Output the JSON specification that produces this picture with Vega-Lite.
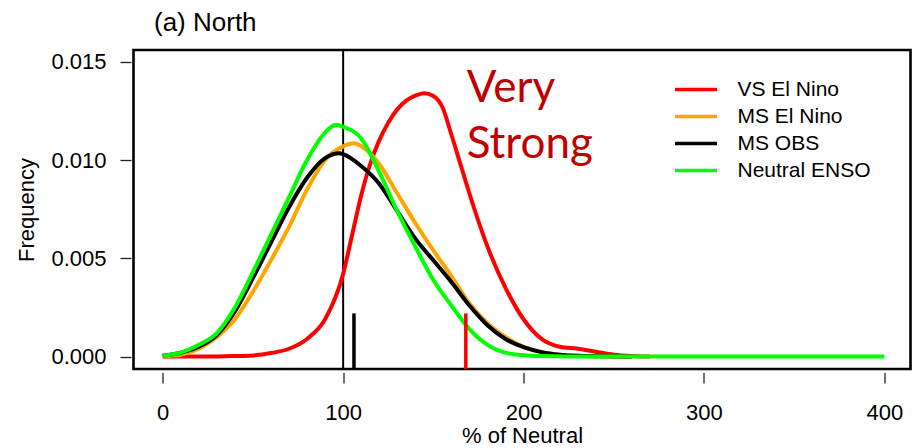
{
  "$schema": "https://vega.github.io/schema/vega-lite/v6.json",
  "autosize": {"type": "none"},
  "padding": {"left": 133.5, "top": 50, "right": 1.5, "bottom": 79},
  "width": 777,
  "height": 319,
  "background": "white",
  "config": {
    "font": "Liberation Sans",
    "view": {"stroke": "black", "strokeWidth": 2.6},
    "axis": {"grid": false, "domain": false, "labelFont": "Liberation Sans", "titleFont": "Liberation Sans", "labelColor": "black", "titleColor": "black", "tickColor": "#222", "tickWidth": 1.3, "labelFontSize": 22, "titleFontSize": 22, "titleFontWeight": "normal"}
  },
  "title": {"text": "(a) North", "anchor": "start", "frame": "group", "dx": 20.5, "offset": -8, "baseline": "alphabetic", "fontSize": 26, "fontWeight": "normal", "font": "Liberation Sans", "color": "black"},
  "datasets": {
    "curves": [
      {"s": "VS El Nino", "x": 0, "y": 0},
      {"s": "VS El Nino", "x": 10, "y": 0},
      {"s": "VS El Nino", "x": 20, "y": 0},
      {"s": "VS El Nino", "x": 30, "y": 0.00001},
      {"s": "VS El Nino", "x": 40, "y": 0.00003},
      {"s": "VS El Nino", "x": 50, "y": 0.00006},
      {"s": "VS El Nino", "x": 60, "y": 0.00018},
      {"s": "VS El Nino", "x": 70, "y": 0.0004},
      {"s": "VS El Nino", "x": 80, "y": 0.0009},
      {"s": "VS El Nino", "x": 90, "y": 0.0019},
      {"s": "VS El Nino", "x": 100, "y": 0.0042},
      {"s": "VS El Nino", "x": 105, "y": 0.0062},
      {"s": "VS El Nino", "x": 110, "y": 0.0082},
      {"s": "VS El Nino", "x": 115, "y": 0.0098},
      {"s": "VS El Nino", "x": 120, "y": 0.0110},
      {"s": "VS El Nino", "x": 125, "y": 0.0119},
      {"s": "VS El Nino", "x": 130, "y": 0.01258},
      {"s": "VS El Nino", "x": 135, "y": 0.01302},
      {"s": "VS El Nino", "x": 140, "y": 0.01328},
      {"s": "VS El Nino", "x": 145, "y": 0.0134},
      {"s": "VS El Nino", "x": 150, "y": 0.01326},
      {"s": "VS El Nino", "x": 155, "y": 0.0127},
      {"s": "VS El Nino", "x": 160, "y": 0.0113},
      {"s": "VS El Nino", "x": 165, "y": 0.0098},
      {"s": "VS El Nino", "x": 170, "y": 0.0083},
      {"s": "VS El Nino", "x": 180, "y": 0.0056},
      {"s": "VS El Nino", "x": 190, "y": 0.0035},
      {"s": "VS El Nino", "x": 200, "y": 0.0019},
      {"s": "VS El Nino", "x": 210, "y": 0.0009},
      {"s": "VS El Nino", "x": 220, "y": 0.0005},
      {"s": "VS El Nino", "x": 230, "y": 0.0004},
      {"s": "VS El Nino", "x": 240, "y": 0.00025},
      {"s": "VS El Nino", "x": 250, "y": 0.0001},
      {"s": "VS El Nino", "x": 260, "y": 0.00003},
      {"s": "VS El Nino", "x": 270, "y": 0},
      {"s": "MS El Nino", "x": 0, "y": 0.00003},
      {"s": "MS El Nino", "x": 10, "y": 0.0001},
      {"s": "MS El Nino", "x": 20, "y": 0.0004},
      {"s": "MS El Nino", "x": 30, "y": 0.001},
      {"s": "MS El Nino", "x": 40, "y": 0.0019},
      {"s": "MS El Nino", "x": 50, "y": 0.0033},
      {"s": "MS El Nino", "x": 60, "y": 0.0049},
      {"s": "MS El Nino", "x": 70, "y": 0.0066},
      {"s": "MS El Nino", "x": 80, "y": 0.0085},
      {"s": "MS El Nino", "x": 90, "y": 0.01},
      {"s": "MS El Nino", "x": 100, "y": 0.0107},
      {"s": "MS El Nino", "x": 106, "y": 0.01085},
      {"s": "MS El Nino", "x": 110, "y": 0.0107},
      {"s": "MS El Nino", "x": 120, "y": 0.0098},
      {"s": "MS El Nino", "x": 130, "y": 0.0083},
      {"s": "MS El Nino", "x": 140, "y": 0.0068},
      {"s": "MS El Nino", "x": 150, "y": 0.0054},
      {"s": "MS El Nino", "x": 160, "y": 0.0041},
      {"s": "MS El Nino", "x": 170, "y": 0.0027},
      {"s": "MS El Nino", "x": 180, "y": 0.0017},
      {"s": "MS El Nino", "x": 190, "y": 0.001},
      {"s": "MS El Nino", "x": 200, "y": 0.0005},
      {"s": "MS El Nino", "x": 210, "y": 0.00024},
      {"s": "MS El Nino", "x": 220, "y": 0.0001},
      {"s": "MS El Nino", "x": 230, "y": 0.00004},
      {"s": "MS El Nino", "x": 250, "y": 0.00001},
      {"s": "MS El Nino", "x": 260, "y": 0},
      {"s": "MS OBS", "x": 0, "y": 0.00005},
      {"s": "MS OBS", "x": 10, "y": 0.0002},
      {"s": "MS OBS", "x": 20, "y": 0.0005},
      {"s": "MS OBS", "x": 30, "y": 0.0011},
      {"s": "MS OBS", "x": 40, "y": 0.0023},
      {"s": "MS OBS", "x": 50, "y": 0.004},
      {"s": "MS OBS", "x": 60, "y": 0.0058},
      {"s": "MS OBS", "x": 70, "y": 0.0076},
      {"s": "MS OBS", "x": 80, "y": 0.0091},
      {"s": "MS OBS", "x": 90, "y": 0.0101},
      {"s": "MS OBS", "x": 98, "y": 0.01035},
      {"s": "MS OBS", "x": 100, "y": 0.0103},
      {"s": "MS OBS", "x": 110, "y": 0.0097},
      {"s": "MS OBS", "x": 120, "y": 0.0088},
      {"s": "MS OBS", "x": 130, "y": 0.0074},
      {"s": "MS OBS", "x": 140, "y": 0.006},
      {"s": "MS OBS", "x": 150, "y": 0.0049},
      {"s": "MS OBS", "x": 160, "y": 0.0038},
      {"s": "MS OBS", "x": 170, "y": 0.0026},
      {"s": "MS OBS", "x": 180, "y": 0.0016},
      {"s": "MS OBS", "x": 190, "y": 0.0009},
      {"s": "MS OBS", "x": 200, "y": 0.00048},
      {"s": "MS OBS", "x": 210, "y": 0.00023},
      {"s": "MS OBS", "x": 220, "y": 0.0001},
      {"s": "MS OBS", "x": 230, "y": 0.00004},
      {"s": "MS OBS", "x": 250, "y": 0.00001},
      {"s": "MS OBS", "x": 260, "y": 0},
      {"s": "Neutral ENSO", "x": 0, "y": 0.00005},
      {"s": "Neutral ENSO", "x": 10, "y": 0.0002},
      {"s": "Neutral ENSO", "x": 20, "y": 0.0006},
      {"s": "Neutral ENSO", "x": 30, "y": 0.0012},
      {"s": "Neutral ENSO", "x": 40, "y": 0.0025},
      {"s": "Neutral ENSO", "x": 50, "y": 0.0043},
      {"s": "Neutral ENSO", "x": 60, "y": 0.0062},
      {"s": "Neutral ENSO", "x": 70, "y": 0.0081},
      {"s": "Neutral ENSO", "x": 80, "y": 0.01},
      {"s": "Neutral ENSO", "x": 90, "y": 0.0114},
      {"s": "Neutral ENSO", "x": 96, "y": 0.0118},
      {"s": "Neutral ENSO", "x": 100, "y": 0.0117},
      {"s": "Neutral ENSO", "x": 110, "y": 0.0111},
      {"s": "Neutral ENSO", "x": 120, "y": 0.0094},
      {"s": "Neutral ENSO", "x": 130, "y": 0.0074},
      {"s": "Neutral ENSO", "x": 140, "y": 0.0056},
      {"s": "Neutral ENSO", "x": 150, "y": 0.0039},
      {"s": "Neutral ENSO", "x": 160, "y": 0.0026},
      {"s": "Neutral ENSO", "x": 170, "y": 0.0014},
      {"s": "Neutral ENSO", "x": 180, "y": 0.0006},
      {"s": "Neutral ENSO", "x": 190, "y": 0.0002},
      {"s": "Neutral ENSO", "x": 200, "y": 0.00007},
      {"s": "Neutral ENSO", "x": 210, "y": 0.00003},
      {"s": "Neutral ENSO", "x": 230, "y": 0.00001},
      {"s": "Neutral ENSO", "x": 260, "y": 0},
      {"s": "Neutral ENSO", "x": 300, "y": 0},
      {"s": "Neutral ENSO", "x": 350, "y": 0},
      {"s": "Neutral ENSO", "x": 400, "y": 0}
    ],
    "vline": [{"x": 100}],
    "marks": [
      {"s": "MS OBS", "x": 106, "top": 0.0022, "bottom": -0.00063},
      {"s": "VS El Nino", "x": 168, "top": 0.0022, "bottom": -0.00063}
    ],
    "note": [{"label": ["Very", "Strong"]}]
  },
  "layer": [
    {
      "data": {"name": "vline"},
      "mark": {"type": "rule", "color": "black", "strokeWidth": 2},
      "encoding": {"x": {"field": "x", "type": "quantitative"}}
    },
    {
      "data": {"name": "curves"},
      "mark": {"type": "line", "strokeWidth": 4, "interpolate": "monotone", "clip": true},
      "encoding": {
        "x": {"field": "x", "type": "quantitative", "scale": {"domain": [-16.2, 414.5], "nice": false, "zero": false},
          "axis": {"values": [0, 100, 200, 300, 400], "title": "% of Neutral", "offset": 3.5, "tickSize": 10.5, "labelPadding": 19, "titlePadding": 2}},
        "y": {"field": "y", "type": "quantitative", "scale": {"domain": [-0.00063, 0.0156], "nice": false, "zero": false},
          "axis": {"values": [0, 0.005, 0.01, 0.015], "format": ".3f", "title": "Frequency", "offset": 2.5, "tickSize": 11, "labelPadding": 14, "titlePadding": 12}},
        "color": {"field": "s", "type": "nominal", "title": null,
          "scale": {"domain": ["VS El Nino", "MS El Nino", "MS OBS", "Neutral ENSO"], "range": ["#ff0000", "#ffa500", "#000000", "#00ff00"]},
          "legend": {"orient": "none", "legendX": 552, "legendY": 29, "symbolType": "M-4,0L4,0", "symbolSize": 110, "symbolStrokeWidth": 3.5, "labelFontSize": 21, "labelFont": "Liberation Sans", "labelColor": "black", "labelOffset": 31, "rowPadding": 5, "padding": 0}},
        "order": {"field": "x", "type": "quantitative"}
      }
    },
    {
      "data": {"name": "marks"},
      "mark": {"type": "rule", "strokeWidth": 3.5},
      "encoding": {
        "x": {"field": "x", "type": "quantitative"},
        "y": {"field": "top", "type": "quantitative"},
        "y2": {"field": "bottom"},
        "color": {"field": "s", "type": "nominal", "legend": null}
      }
    },
    {
      "data": {"name": "note"},
      "mark": {"type": "text", "font": "Lato", "fontSize": 44, "color": "#c00000", "align": "left", "baseline": "alphabetic", "lineHeight": 56},
      "encoding": {
        "x": {"datum": 168.5},
        "y": {"datum": 0.01295},
        "text": {"field": "label"}
      }
    }
  ]
}
